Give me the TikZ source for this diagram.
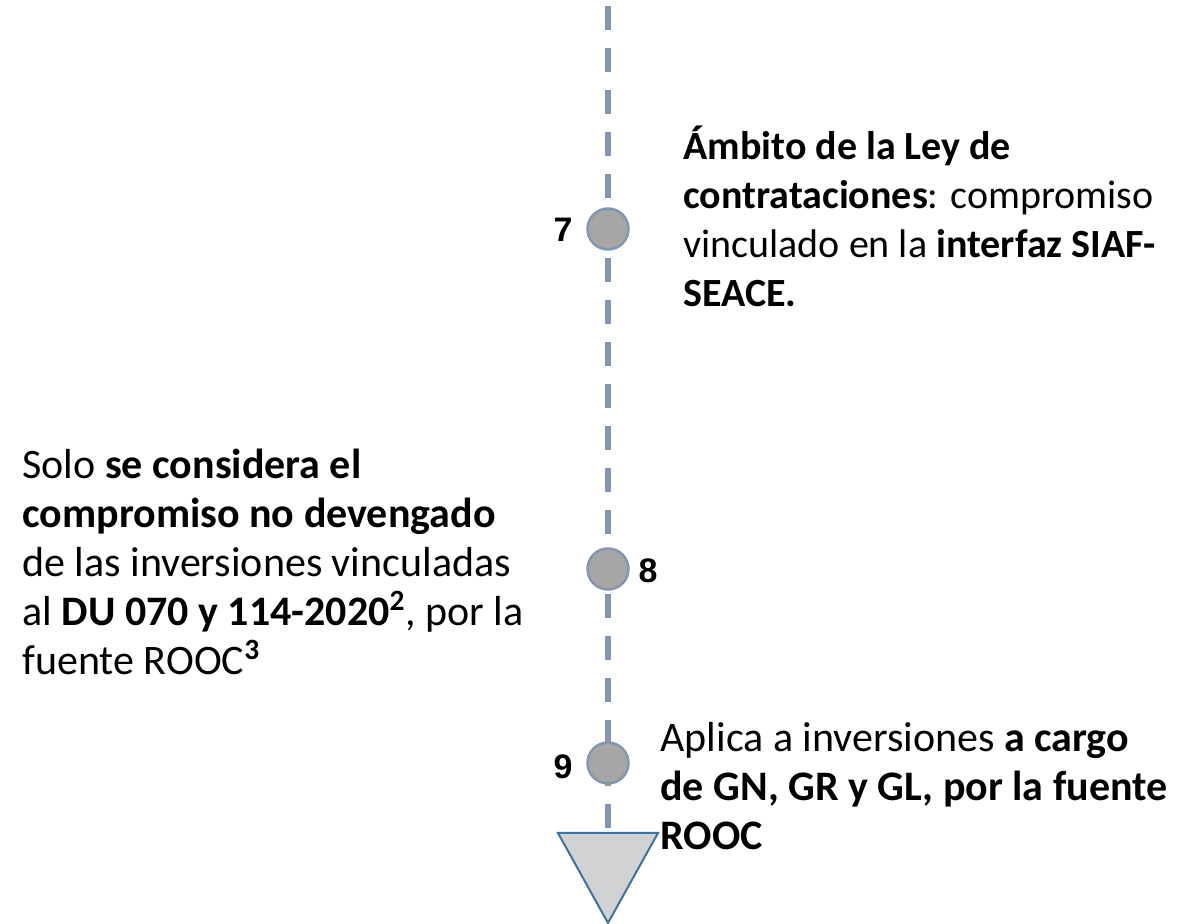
\documentclass[tikz,border=0pt]{standalone}
\usepackage{fontspec}
\setmainfont{Carlito}
\newfontfamily\numfont{Liberation Sans}
\usepackage{xcolor}
\usetikzlibrary{positioning}
\definecolor{linegray}{RGB}{132,151,176}
\definecolor{dotgray}{RGB}{166,166,166}
\definecolor{trifill}{RGB}{208,210,211}
\definecolor{triblue}{RGB}{65,113,156}

\begin{document}
\begin{tikzpicture}[x=0.5pt, y=-0.5pt,
  dot/.style={circle, draw=linegray, fill=dotgray, line width=1.25pt,
    minimum size=20.5pt, inner sep=0pt},
  num/.style={font=\numfont\bfseries\fontsize{17}{20}\selectfont,
    inner sep=0pt},
  note/.style={align=left, inner sep=0pt, anchor=base west,
    font=\fontsize{21}{24.5}\selectfont},
  timeline/.style={draw=linegray, line width=3pt,
    dash pattern=on 12pt off 9pt},
  endtri/.style={draw=triblue, fill=trifill, line width=1pt,
    line join=miter}
]
\useasboundingbox (0,0) rectangle (1196,924);

% Timeline
\coordinate (top) at (608,6);
\coordinate (tip) at (608,833);
\draw[timeline] (top) -- (tip);

% End marker
\draw[endtri] (tip) -- ++(-50,0) -- ++(50,90) -- ++(50,-90) -- cycle;

% Milestones
\node[dot] (n7) at (608,229) {};
\node[dot] (n8) at (608,569) {};
\node[dot] (n9) at (608,763) {};

\node[num] (lbl7) at (563,230) {7};
\node[num] (lbl8) at (648,571) {8};
\node[num] (lbl9) at (563,767) {9};

% Notes (anchored at the baseline of the last line)
\node[note, font=\fontsize{20}{24.5}\selectfont] (txt7) at (683,307)
  {\textbf{Ámbito de la Ley de}\\
   \textbf{contrataciones}: compromiso\\
   vinculado en la \textbf{interfaz SIAF-}\\
   \textbf{SEACE.}};

\node[note] (txt8) at (22,675)
  {Solo \textbf{se considera el}\\
   \textbf{compromiso no devengado}\\
   de las inversiones vinculadas\\
   al \textbf{DU 070 y 114-2020\textsuperscript{2}}, por la\\
   fuente ROOC\textsuperscript{\textbf{3}}};

\node[note] (txt9) at (660,850)
  {Aplica a inversiones \textbf{a cargo}\\
   \textbf{de GN, GR y GL, por la fuente}\\
   \textbf{ROOC}};
\end{tikzpicture}
\end{document}
